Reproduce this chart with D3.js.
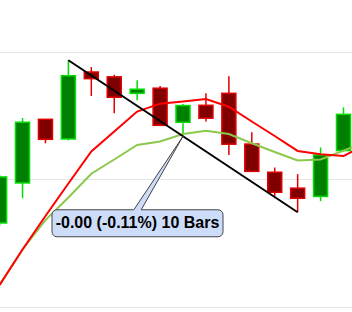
<!DOCTYPE html>
<html>
<head>
<meta charset="utf-8">
<script src="https://cdn.jsdelivr.net/npm/d3@7"></script>
<style>
html,body{margin:0;padding:0;background:#fff;}
svg{display:block;}
</style>
</head>
<body>
<svg id="chart" width="352" height="312"></svg>
<script>
// ---- data ----
const bars  = [0,1,2,3,4,5,6,7,8,9,10,11,12,13,14,15];
const open  = [1.0659,1.0973,1.1472,1.1318,1.1843,1.1805,1.1676,1.1716,1.1449,1.1582,1.1676,1.1278,1.1057,1.0932,1.0867,1.1227];
const high  = [1.1035,1.1482,1.1472,1.1935,1.1882,1.1821,1.1778,1.1733,1.1592,1.1676,1.1810,1.1371,1.1094,1.1042,1.1251,1.1566];
const low   = [1.0635,1.0853,1.1284,1.1307,1.1655,1.1519,1.1622,1.1425,1.1353,1.1455,1.1192,1.1064,1.0871,1.0743,1.0831,1.1220];
const close = [1.1020,1.1449,1.1315,1.1814,1.1791,1.1645,1.1708,1.1425,1.1580,1.1481,1.1277,1.1064,1.0900,1.0853,1.1192,1.1511];
const maFast = [1.0173,1.0451,1.0714,1.0969,1.1220,1.1376,1.1533,1.1595,1.1612,1.1631,1.1571,1.1455,1.1341,1.1224,1.1198,1.1184,1.1275];
const maSlow = [1.0173,1.0451,1.0682,1.0859,1.1045,1.1157,1.1271,1.1298,1.1357,1.1382,1.1357,1.1284,1.1216,1.1149,1.1157,1.1227,1.1298];
const gridTicks = [1.0, 1.1, 1.2];
const trendFrom = 3, trendTo = 13;           // high of bar 3 -> low of bar 13
const calloutText = "-0.00 (-0.11%) 10 Bars";

// ---- scales ----
const W = 352, H = 312;
const x = d3.scaleLinear().domain([0, 15]).range([-0.4, 343.5]);
const y = d3.scaleLinear().domain([1.0, 1.2]).range([307, 52]);
const bodyW = 14;

const svg = d3.select("#chart");
svg.append("defs").append("clipPath").attr("id","plot")
  .append("rect").attr("x",0).attr("y",0).attr("width",W).attr("height",H);

// grid
svg.append("g").selectAll("line").data(gridTicks).join("line")
  .attr("x1",0).attr("x2",W)
  .attr("y1",d=>Math.round(y(d))+0.5).attr("y2",d=>Math.round(y(d))+0.5)
  .attr("stroke","#e6e6e6").attr("stroke-width",1);

const g = svg.append("g").attr("clip-path","url(#plot)");

// candles
const candles = g.append("g").selectAll("g").data(bars).join("g");
const up = i => close[i] >= open[i];
candles.append("line")
  .attr("x1",i=>x(i)).attr("x2",i=>x(i))
  .attr("y1",i=>y(high[i])).attr("y2",i=>y(low[i]))
  .attr("stroke",i=>up(i)?"#00dd00":"#e00000").attr("stroke-width",1.5);
candles.append("rect")
  .attr("x",i=>x(i)-bodyW/2).attr("width",bodyW)
  .attr("y",i=>y(Math.max(open[i],close[i])))
  .attr("height",i=>Math.max(1,Math.abs(y(open[i])-y(close[i]))))
  .attr("fill",i=>up(i)?"#008000":"#800000")
  .attr("stroke",i=>up(i)?"#00dd00":"#e00000").attr("stroke-width",1.5);

// moving averages
const line = d3.line().x((d,i)=>x(i)).y(d=>y(d));
g.append("path").datum(maSlow).attr("d",line)
  .attr("fill","none").attr("stroke","#8cc84b").attr("stroke-width",2);
g.append("path").datum(maFast).attr("d",line)
  .attr("fill","none").attr("stroke","#ff0000").attr("stroke-width",2);

// trend line
const tx0 = x(trendFrom), ty0 = y(high[trendFrom]);
const tx1 = x(trendTo),   ty1 = y(low[trendTo]);
g.append("line").attr("x1",tx0).attr("y1",ty0).attr("x2",tx1).attr("y2",ty1)
  .attr("stroke","#000").attr("stroke-width",2);

// callout
const midI = (trendFrom + trendTo) / 2;
const tipX = x(midI), tipY = ty0 + (ty1 - ty0) * (midI - trendFrom) / (trendTo - trendFrom);
const boxCx = tipX - 45.5, boxTop = tipY + 73.5, boxW = 171, boxH = 27, r = 5;
const bx0 = boxCx - boxW/2, bx1 = boxCx + boxW/2, by0 = boxTop, by1 = boxTop + boxH;
const p = d3.path();
p.moveTo(bx0 + r, by0);
p.lineTo(boxCx - 3.7, by0);
p.lineTo(tipX, tipY);
p.lineTo(boxCx + 3.7, by0);
p.lineTo(bx1 - r, by0);
p.arcTo(bx1, by0, bx1, by0 + r, r);
p.lineTo(bx1, by1 - r);
p.arcTo(bx1, by1, bx1 - r, by1, r);
p.lineTo(bx0 + r, by1);
p.arcTo(bx0, by1, bx0, by1 - r, r);
p.lineTo(bx0, by0 + r);
p.arcTo(bx0, by0, bx0 + r, by0, r);
p.closePath();
svg.append("path").attr("d", p.toString())
  .attr("fill","#cddcf9").attr("stroke","#444").attr("stroke-width",1);
svg.append("text").attr("x",boxCx).attr("y",by0 + 18.5)
  .attr("text-anchor","middle")
  .attr("font-family","Liberation Sans, Arial, sans-serif")
  .attr("font-weight","bold").attr("font-size",16).attr("fill","#000")
  .text(calloutText);
</script>
</body>
</html>
